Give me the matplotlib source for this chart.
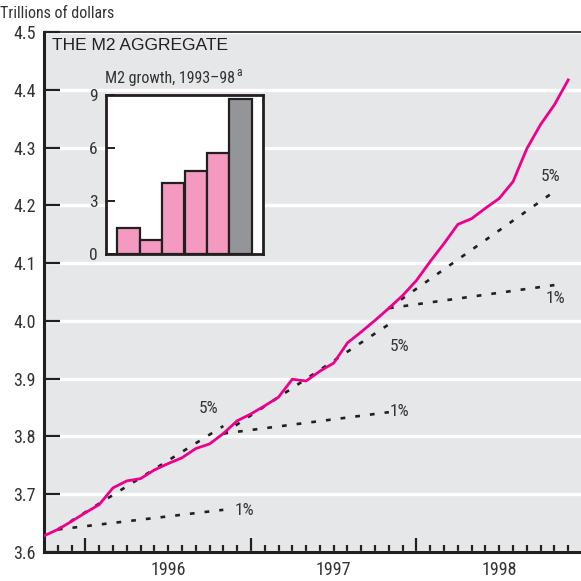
import matplotlib.pyplot as plt
from matplotlib import font_manager as fm

# ── Palette ───────────────────────────────────────────────────────────────────
BG       = "#E6E7E8"
M2_COL   = "#EC008C"
DOT_COL  = "#231F20"
TEXT_COL = "#333333"
PINK     = "#F49AC1"
GRAY     = "#939598"

# pick a condensed face if one is installed
_fonts = fm.fontManager.ttflist
_names = {f.name for f in _fonts}
NARROW = None
for cand in ['Liberation Sans Narrow', 'Roboto Condensed', 'Open Sans Condensed',
             'Arial Narrow', 'Nimbus Sans Narrow']:
    if cand in _names:
        NARROW = dict(family=[cand, 'DejaVu Sans'])
        break
if NARROW is None:
    for base in ['Roboto', 'Open Sans', 'Noto Sans', 'DejaVu Sans']:
        if any(f.name == base and str(f.stretch) in ('condensed', 'semi-condensed', '75', '87')
               for f in _fonts):
            NARROW = dict(family=[base, 'DejaVu Sans'], fontstretch='condensed')
            break
if NARROW is None:
    NARROW = dict(family=['Roboto', 'DejaVu Sans'])
WIDE = dict(family=['Liberation Sans', 'DejaVu Sans'])

# ── Data ──────────────────────────────────────────────────────────────────────
# month index, 0 = Jan 1996 (Oct 1995 .. Dec 1998)
months = list(range(-3, 36))
m2 = [3.628, 3.639, 3.653, 3.668, 3.682, 3.711, 3.723, 3.727, 3.742, 3.753,
      3.763, 3.779, 3.787, 3.805, 3.827, 3.839, 3.853, 3.868, 3.899, 3.896,
      3.913, 3.927, 3.962, 3.981, 4.001, 4.022, 4.044, 4.070, 4.103, 4.134,
      4.167, 4.177, 4.195, 4.212, 4.241, 4.298, 4.340, 4.374, 4.417]

# trend paths from three starting points
trend_start = [-2, 10, 22]
trend_end   = [10, 22, 34]
trend_base  = [3.639, 3.805, 4.022]
trend_1pct  = [3.673, 3.842, 4.062]
trend_5pct  = [3.818, 3.994, 4.224]

year_labels = ["1996", "1997", "1998"]
year_starts = [0, 12, 24]

inset_years  = ["1993", "1994", "1995", "1996", "1997", "1998"]
inset_growth = [1.5, 0.8, 4.0, 4.7, 5.7, 8.8]

# ── Figure ────────────────────────────────────────────────────────────────────
fig = plt.figure(figsize=(5.81, 5.81), dpi=100)
fig.patch.set_facecolor("white")
ax = fig.add_axes([44/581, 29/581, 538/581, 520/581])
ax.set_facecolor(BG)
ax.set_axisbelow(True)

ax.set_xlim(-3, 36)
ax.set_ylim(3.6, 4.5)

# grid
yt = [3.6 + 0.1 * i for i in range(10)]
ax.set_yticks(yt)
ax.set_yticklabels([f"{v:.1f}" for v in yt], fontsize=13, color=TEXT_COL, **NARROW)
ax.yaxis.grid(True, color="white", linewidth=2.4)
ax.tick_params(axis='y', direction='in', length=11.5, width=1.6, color="#231F20", pad=6)

# ── Trend lines ───────────────────────────────────────────────────────────────
for s, e, b, p1, p5 in zip(trend_start, trend_end, trend_base, trend_1pct, trend_5pct):
    ax.plot([s, e], [b, p1], color=DOT_COL, lw=1.9, linestyle=(0, (1.8, 3.8)),
            solid_capstyle='butt', zorder=3)
    ax.plot([s, e], [b, p5], color=DOT_COL, lw=1.9, linestyle=(0, (1.8, 3.8)),
            solid_capstyle='butt', zorder=3)

# ── M2 line ───────────────────────────────────────────────────────────────────
ax.plot(months, m2, color=M2_COL, lw=2.0, zorder=4, solid_joinstyle='miter')

# percent labels
pct_labels = [(8.9, 3.848, "5%"), (11.5, 3.672, "1%"),
              (22.8, 3.956, "5%"), (22.8, 3.844, "1%"),
              (33.7, 4.250, "5%"), (34.1, 4.038, "1%")]
for mx, vy, txt in pct_labels:
    ax.text(mx, vy, txt, fontsize=12.5, color=TEXT_COL,
            ha='center', va='center', zorder=5, **NARROW)

# ── X axis ────────────────────────────────────────────────────────────────────
ax.set_xticks(year_starts)
ax.set_xticklabels([])
ax.set_xticks([m for m in range(-2, 36) if m not in year_starts], minor=True)
ax.tick_params(axis='x', which='major', direction='in', length=10, width=1.6, color="#231F20")
ax.tick_params(axis='x', which='minor', direction='in', length=5, width=1.6, color="#231F20")
for s, lab in zip(year_starts, year_labels):
    ax.text(s + 6, -0.018, lab, transform=ax.get_xaxis_transform(),
            fontsize=13, color=TEXT_COL, ha='center', va='top', **NARROW)

ax.spines['left'].set_linewidth(2.2)
ax.spines['bottom'].set_linewidth(2.2)
ax.spines['top'].set_linewidth(1.2)
ax.spines['right'].set_visible(False)
for sp in ax.spines.values():
    sp.set_color("#231F20")

# ── Titles ────────────────────────────────────────────────────────────────────
fig.text(0.0, 1 - 13/581, "Trillions of dollars", fontsize=11.5,
         color=TEXT_COL, ha='left', va='center', **NARROW)
fig.text(52/581, 1 - 45/581, "THE M2 AGGREGATE", fontsize=12.5,
         color="#231F20", ha='left', va='center', **WIDE)

# ── Inset ─────────────────────────────────────────────────────────────────────
axin = fig.add_axes([106/581, 1 - 254/581, 157/581, 159/581])
axin.set_facecolor("white")
bar_cols = [PINK] * (len(inset_years) - 1) + [GRAY]
axin.bar(range(len(inset_years)), inset_growth, width=1.0, color=bar_cols,
         edgecolor="#231F20", linewidth=1.6)
axin.set_xlim(-1, len(inset_years))
axin.set_ylim(0, 9)
axin.set_xticks([])
axin.set_yticks([0, 3, 6, 9])
axin.set_yticklabels(["0", "3", "6", "9"], fontsize=12.5, color=TEXT_COL, **NARROW)
axin.tick_params(axis='y', direction='in', length=6.5, width=1.4, color="#231F20", pad=6)
for sp in axin.spines.values():
    sp.set_linewidth(2.0)
    sp.set_color("#231F20")

sub = fig.text(105/581, 1 - 78/581, "M2 growth, 1993\u201398", fontsize=11.5,
               color=TEXT_COL, ha='left', va='center', **NARROW)
fig.canvas.draw()
bb = sub.get_window_extent()
fig.text((bb.x1 + 1) / 581, 1 - 72/581, "a", fontsize=8.5,
         color=TEXT_COL, ha='left', va='center', **NARROW)

plt.savefig("out.png", dpi=100)
